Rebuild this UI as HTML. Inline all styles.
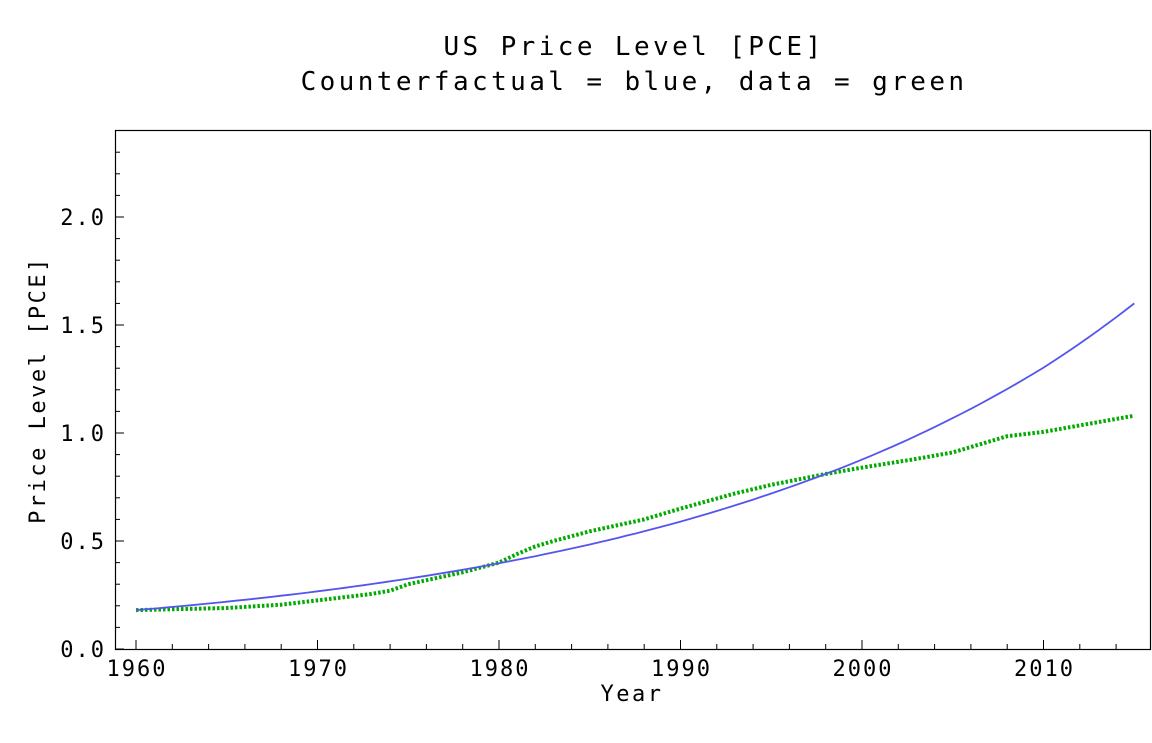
<!DOCTYPE html>
<html><head><meta charset="utf-8"><style>
body{margin:0;background:#fff;}
svg text{font-family:"DejaVu Sans Mono","Liberation Mono",monospace;fill:#000;}
</style></head><body>
<svg width="1152" height="738" xmlns="http://www.w3.org/2000/svg">
<g>
<text x="634" y="55" font-size="26" text-anchor="middle" letter-spacing="3.4">US Price Level [PCE]</text>
<text x="634" y="90" font-size="26" text-anchor="middle" letter-spacing="3.4">Counterfactual = blue, data = green</text>
</g>
<rect x="115.5" y="130.5" width="1035" height="519" fill="none" stroke="#000" stroke-width="1.2"/>
<g id="axes"></g>
<g id="series"></g>
<text x="632" y="701" font-size="22" text-anchor="middle" letter-spacing="2.5">Year</text>
<text x="45" y="390" font-size="22" text-anchor="middle" letter-spacing="2.5" transform="rotate(-90 45 390)">Price Level [PCE]</text>
</svg>
<script>
const xTicks=[1960,1970,1980,1990,2000,2010];
const yTicks=[0.0,0.5,1.0,1.5,2.0];
const yTickLabels=["0.0","0.5","1.0","1.5","2.0"];
const cfYears=[1960,1965,1970,1975,1980,1985,1990,1995,2000,2005,2010,2015];
const cfValues=[0.18,0.219,0.267,0.326,0.397,0.484,0.59,0.72,0.877,1.069,1.303,1.60];
const dataYears=[1960,1965,1968,1970,1973,1974,1975,1978,1980,1981,1982,1983,1985,1988,1990,1993,1995,1998,2000,2003,2005,2008,2010,2012,2015];
const dataValues=[0.18,0.19,0.205,0.225,0.255,0.27,0.30,0.355,0.40,0.44,0.475,0.50,0.545,0.60,0.65,0.72,0.76,0.81,0.84,0.88,0.91,0.985,1.005,1.035,1.08];
const NS="http://www.w3.org/2000/svg";
const X=y=>136+(y-1960)*18.15;
const Y=v=>649-v*216;
const ax=document.getElementById('axes'), se=document.getElementById('series');
function mk(tag,attrs,parent){const e=document.createElementNS(NS,tag);for(const k in attrs)e.setAttribute(k,attrs[k]);parent.appendChild(e);return e;}
for(let yr=1960;yr<=2015;yr+=2){
  const major=xTicks.includes(yr);
  const t=mk('line',{x1:X(yr),x2:X(yr),y1:649,y2:major?640:644,stroke:'#000','stroke-width':1},ax);
  
  
}
xTicks.forEach(yr=>{const t=mk('text',{x:X(yr)+1,y:676,'font-size':22,'text-anchor':'middle','letter-spacing':2},ax);t.textContent=yr;
  
  });
for(let v=0;v<=2.4;v+=0.1){
  const major=Math.abs(v*2-Math.round(v*2))<1e-6;
  const t=mk('line',{x1:115,x2:major?124:120,y1:Y(v),y2:Y(v),stroke:'#000','stroke-width':1},ax);
  
  
}
yTicks.forEach((v,i)=>{const t=mk('text',{x:106,y:Y(v)+8,'font-size':22,'text-anchor':'end','letter-spacing':2},ax);t.textContent=yTickLabels[i];
  
  });
function path(xs,vs){return xs.map((x,i)=>(i?'L':'M')+X(x).toFixed(1)+','+Y(vs[i]).toFixed(1)).join(' ');}
const g=mk('path',{d:path(dataYears,dataValues),fill:'none',stroke:'#00aa00','stroke-width':4,'stroke-dasharray':'2.5 2'},se);


let cx=[],cv=[];
for(let i=0;i<cfYears.length-1;i++){for(let s=0;s<10;s++){const f=s/10;cx.push(cfYears[i]+f*(cfYears[i+1]-cfYears[i]));cv.push(Math.exp(Math.log(cfValues[i])*(1-f)+Math.log(cfValues[i+1])*f));}}
cx.push(cfYears[cfYears.length-1]);cv.push(cfValues[cfValues.length-1]);
const b=mk('path',{d:path(cx,cv),fill:'none',stroke:'#5555ee','stroke-width':1.8},se);


</script>
</body></html>
